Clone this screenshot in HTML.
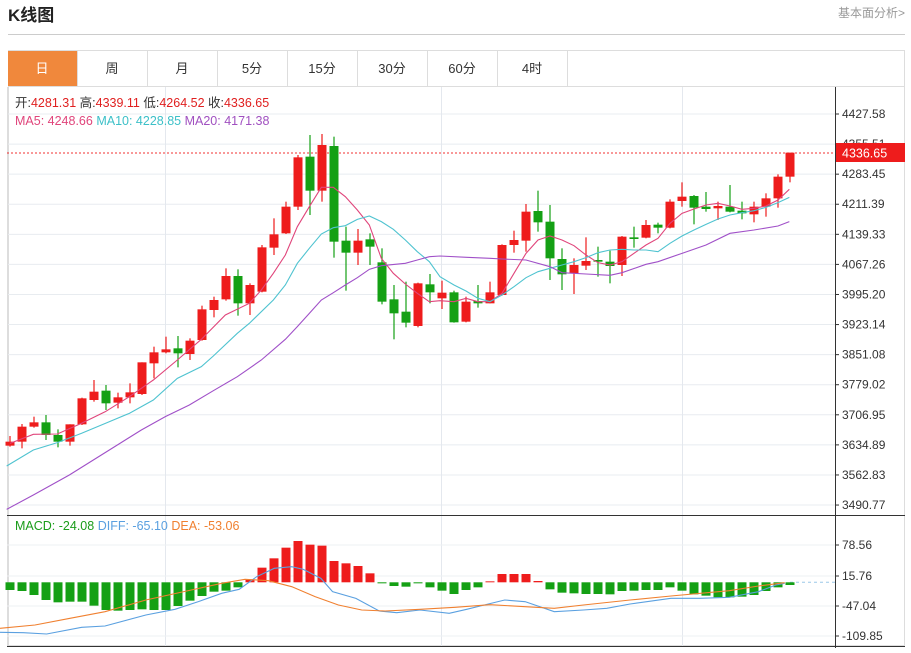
<!DOCTYPE html>
<html><head><meta charset="utf-8"><style>
body{margin:0;background:#fff;width:911px;height:648px;overflow:hidden;font-family:"Liberation Sans","Noto Sans CJK SC",sans-serif;}
</style></head><body>
<svg id="s" width="911" height="648" xmlns="http://www.w3.org/2000/svg" font-family="Liberation Sans, Noto Sans CJK SC, sans-serif">
<text x="8" y="21" font-size="17" font-weight="bold" fill="#222">K线图</text>
<text x="905" y="17" font-size="12" fill="#999" text-anchor="end">基本面分析&gt;</text>
<line x1="8" y1="34.5" x2="905" y2="34.5" stroke="#ccc"/>
<rect x="8.5" y="50.5" width="896" height="595" fill="none" stroke="#ddd"/>
<line x1="8" y1="86.5" x2="905" y2="86.5" stroke="#ddd"/>
<rect x="8" y="51" width="69" height="35" fill="#f0883c"/>
<g font-size="13" text-anchor="middle" fill="#333">
<text x="42" y="73" fill="#fff">日</text>
<text x="112" y="73">周</text><text x="182" y="73">月</text><text x="252" y="73">5分</text>
<text x="322" y="73">15分</text><text x="392" y="73">30分</text><text x="462" y="73">60分</text><text x="532" y="73">4时</text>
</g>
<g stroke="#ddd"><line x1="77.5" y1="51" x2="77.5" y2="86"/><line x1="147.5" y1="51" x2="147.5" y2="86"/><line x1="217.5" y1="51" x2="217.5" y2="86"/><line x1="287.5" y1="51" x2="287.5" y2="86"/><line x1="357.5" y1="51" x2="357.5" y2="86"/><line x1="427.5" y1="51" x2="427.5" y2="86"/><line x1="497.5" y1="51" x2="497.5" y2="86"/><line x1="567.5" y1="51" x2="567.5" y2="86"/></g>
<g id="g"></g>
<line x1="835.5" y1="87" x2="835.5" y2="648" stroke="#333"/>
<line x1="7" y1="515.5" x2="905" y2="515.5" stroke="#333"/>
<line x1="7" y1="646.5" x2="905" y2="646.5" stroke="#333"/>
<g font-size="12.5">
<text x="15" y="107" fill="#333">开:<tspan fill="#e02020">4281.31</tspan>  高:<tspan fill="#e02020">4339.11</tspan>  低:<tspan fill="#e02020">4264.52</tspan>  收:<tspan fill="#e02020">4336.65</tspan></text>
<text x="15" y="125"><tspan fill="#e0457b">MA5: 4248.66</tspan>  <tspan fill="#3cc0c8">MA10: 4228.85</tspan>  <tspan fill="#a050c0">MA20: 4171.38</tspan></text>
<text x="15" y="530"><tspan fill="#1a9c1a">MACD: -24.08</tspan>  <tspan fill="#5aa0e0">DIFF: -65.10</tspan>  <tspan fill="#f08030">DEA: -53.06</tspan></text>
</g>
</svg>
<script>
var g=document.getElementById('g'),h='';
function L(a,b,c,d,col,w,da){h+='<line x1="'+a+'" y1="'+b+'" x2="'+c+'" y2="'+d+'" stroke="'+col+'" stroke-width="'+(w||1)+'"'+(da?' stroke-dasharray="'+da+'"':'')+'/>';}
var labs=['4427.58','4355.51','4283.45','4211.39','4139.33','4067.26','3995.20','3923.14','3851.08','3779.02','3706.95','3634.89','3562.83','3490.77'];
for(var k=0;k<14;k++){var y=114+30.08*k;L(7,y,835,y,'#e8ecf0');L(835,y,839,y,'#333');h+='<text x="842" y="'+(y+4)+'" font-size="12" fill="#333">'+labs[k]+'</text>';}
[165.5,441.5,682.5].forEach(function(x){L(x,87,x,515,'#e4e8ee');L(x,516,x,646,'#e4e8ee');});
L(7.5,87,7.5,646,'#ddd');
var ml=[[545,'78.56'],[576,'15.76'],[606,'-47.04'],[636,'-109.85']];
ml.forEach(function(m){L(7,m[0],835,m[0],'#eef0f3');L(835,m[0],839,m[0],'#333');h+='<text x="842" y="'+(m[0]+4)+'" font-size="12" fill="#333">'+m[1]+'</text>';});
// candles: [color, bodyTop, bodyBot, wickTop, wickBot] in zoom coords
var C=[['r',935,947,918,950],['r',890,935,882,955],['r',877,890,860,893],['g',877,915,855,930],['g',915,935,898,952],['r',883,935,883,947],['r',805,883,803,885],['r',785,810,750,815],['g',782,820,765,840],['r',802,818,788,835],['r',787,802,760,820],['r',697,792,697,795],['r',667,700,650,745],['r',658,667,620,670],['g',655,670,618,712],['r',632,672,625,690],['r',538,630,527,632],['r',510,540,500,562],['r',438,508,415,512],['g',438,520,418,557],['r',465,520,460,555],['r',352,485,345,487],['r',313,353,265,375],['r',230,310,215,312],['r',82,230,75,240],['g',80,182,15,255],['r',45,182,12,215],['g',48,335,20,383],['g',332,368,290,482],['r',332,368,297,405],['g',328,350,310,405],['g',397,515,355,523],['g',508,550,465,628],['g',545,578,455,592],['r',460,588,458,592],['g',463,487,432,520],['r',488,505,452,537],
['g',487,577,482,578],['r',515,575,500,577],['g',513,520,465,533],['r',487,520,455,520],['r',345,495,343,497],['r',330,345,302,368],['r',245,332,222,365],['g',243,277,182,305],['g',275,385,225,450],['g',387,433,355,480],['r',405,430,385,492],['r',393,407,322,420],['g',390,395,350,440],['g',395,408,362,460],['r',320,405,318,438],['g',322,327,290,353],['r',285,323,270,325],['g',284,293,278,310],['r',215,293,208,295],['r',200,213,157,230],['g',198,233,195,283],['g',230,237,186,245],['r',228,235,215,270],['g',230,245,165,247],['g',242,250,215,268],['r',230,253,215,277],['r',205,230,190,260],['r',140,205,133,233],['r',68,140,68,157]];
// red dotted last price line
L(7,153,835,153,'#f03030',1,'2,2');
C.forEach(function(c,i){var x=10+12*i,col=c[0]=='r'?'#ee1c1c':'#14a014';var f=function(v){return 130+v/3;};
L(x,f(c[3]),x,f(c[4]),col,1.2);var t=f(c[1]),b=f(c[2]);if(b-t<1.2)b=t+1.2;h+='<rect x="'+(x-4.5)+'" y="'+t+'" width="9" height="'+(b-t)+'" fill="'+col+'"/>';});
function P(a,b,col,w){var s='';a.forEach(function(p){s+=(p[0]/3)+','+(130+p[1]/3)+' ';});b.forEach(function(p){s+=(440+p[0]/3)+','+(130+p[1]/3)+' ';});h+='<polyline points="'+s+'" fill="none" stroke="'+col+'" stroke-width="'+(w||1.1)+'"/>';}
P([[30,940],[100,913],[172,912],[244,880],[316,845],[388,800],[460,750],[532,690],[604,628],[676,555],[748,520],[784,480],[820,430],[856,375],[892,290],[928,230],[964,172],[1000,172],[1036,200],[1072,240],[1108,285],[1144,385],[1180,430],[1216,462],[1252,490],[1288,515],[1320,512]],[[0,512],[42,515],[78,505],[114,515],[150,515],[186,490],[222,430],[258,370],[294,330],[330,318],[366,330],[402,347],[438,375],[474,398],[510,405],[546,395],[582,370],[618,345],[654,325],[690,280],[726,250],[762,237],[798,225],[834,220],[870,228],[906,238],[942,235],[978,228],[1014,210],[1048,178]],'#e0457b');
P([[20,1008],[100,960],[172,938],[244,910],[316,880],[388,850],[460,810],[532,745],[604,710],[640,678],[712,610],[748,580],[820,510],[856,465],[892,400],[928,355],[964,312],[1000,293],[1036,287],[1072,268],[1108,258],[1144,275],[1180,298],[1216,330],[1252,365],[1288,395],[1320,440]],[[0,440],[42,465],[78,483],[114,505],[150,515],[186,495],[222,470],[258,443],[294,425],[330,415],[366,405],[402,395],[438,383],[474,368],[510,360],[546,358],[582,360],[618,360],[654,365],[690,340],[726,318],[762,300],[798,283],[834,267],[870,255],[906,248],[942,242],[978,232],[1014,218],[1048,202]],'#4fc3d0');
P([[20,1138],[100,1095],[208,1035],[280,990],[352,945],[424,900],[496,860],[568,825],[640,782],[712,740],[784,690],[856,628],[892,590],[928,550],[964,510],[1000,488],[1036,465],[1072,443],[1108,418],[1144,407],[1216,400],[1252,390],[1288,380],[1320,378]],[[0,378],[80,382],[150,385],[186,387],[258,390],[330,410],[366,428],[438,432],[510,436],[546,428],[618,403],[654,395],[726,370],[798,345],[870,310],[942,300],[1014,288],[1048,275]],'#a050c8');
// price label
h+='<rect x="836" y="143" width="69" height="19" fill="#ee1c1c"/><text x="842" y="157.5" font-size="12.5" fill="#fff">4336.65</text>';
// MACD
var base=582.3;L(790,base,835,base,'#9cc8e8',1,'3,3');
var M=[240,243,255,270,277,275,275,287,300,302,300,298,300,300,288,272,258,245,242,232,208,173,145,113,93,104,107,153,160,168,190,220,228,230,220,232,242,252,240,232,214,192,192,192,213,238,248,250,252,252,253,243,242,240,240,232,242,253,257,262,262,260,255,243,232,225];
M.forEach(function(v,i){var x=10+12*i,y=510+v/3,red=(i>=20&&i<=30)||(i>=40&&i<=44);var t=Math.min(y,base),hh=Math.max(Math.abs(y-base),0.8);h+='<rect x="'+(x-4.5)+'" y="'+t+'" width="9" height="'+hh+'" fill="'+(red?'#ee1c1c':'#14a014')+'"/>';});
function Q(a,col){var s='';a.forEach(function(p){s+=(p[0]/1.714)+','+(510+p[1]/3)+' ';});h+='<polyline points="'+s+'" fill="none" stroke="'+col+'" stroke-width="1.1"/>';}
Q([[0,367],[40,368],[80,372],[140,352],[180,348],[250,315],[300,298],[340,275],[380,250],[410,238],[440,200],[470,175],[500,170],[520,178],[550,205],[570,245],[610,265],[650,303],[680,308],[720,300],[770,310],[800,298],[830,285],[865,270],[900,275],[950,305],[1000,300],[1040,295],[1080,282],[1150,265],[1200,265],[1250,262],[1300,245],[1330,225],[1345,220]],'#5aa0e0');
Q([[0,355],[60,345],[120,325],[180,305],[250,270],[320,243],[380,220],[420,208],[460,212],[500,230],[540,260],[580,285],[620,300],[660,303],[720,298],[780,292],[840,284],[900,290],[950,295],[1000,285],[1080,270],[1150,258],[1250,242],[1300,228],[1345,218]],'#f08030');
g.innerHTML=h;
</script>
</body></html>
